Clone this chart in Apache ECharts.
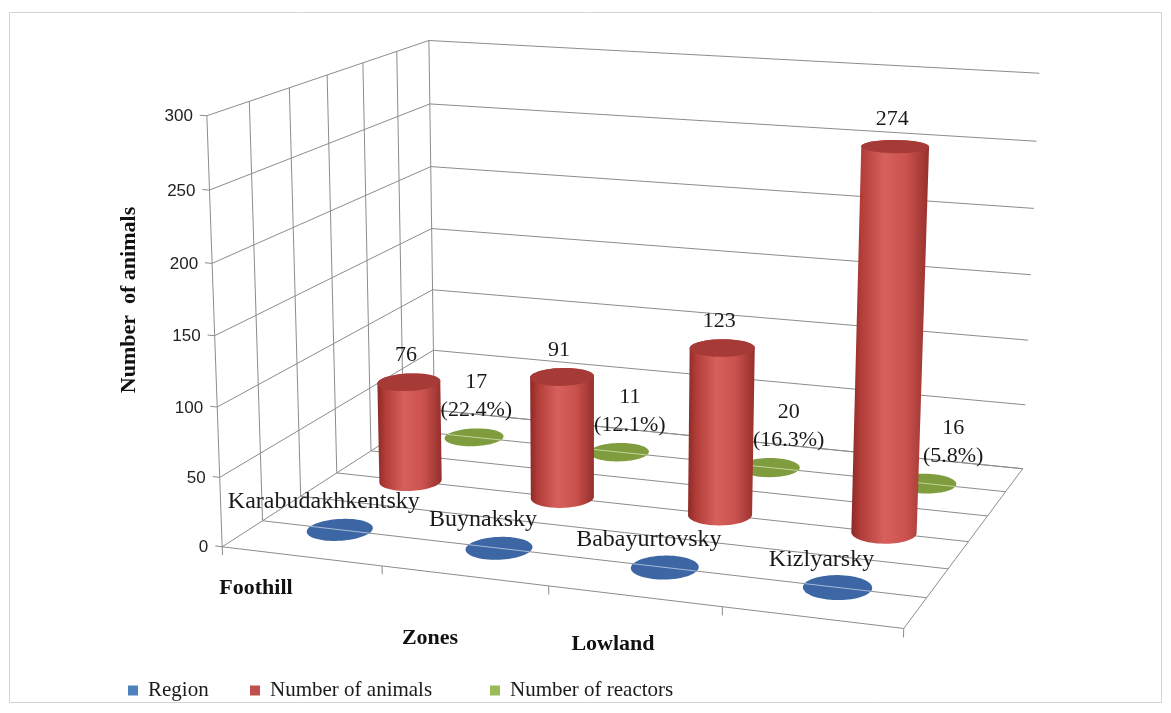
<!DOCTYPE html>
<html><head><meta charset="utf-8">
<script src="https://cdn.jsdelivr.net/npm/echarts@6/dist/echarts.min.js"></script>
<style>html,body{margin:0;padding:0;background:#fff}#c{width:1171px;height:713px}</style>
</head><body><div id="c"></div>
<script>
// ---------------- data ----------------
const regions = ['Karabudakhkentsky', 'Buynaksky', 'Babayurtovsky', 'Kizlyarsky'];
const regionValues = [0, 0, 0, 0];          // region names plotted as 0 (text cells)
const animals = [76, 91, 123, 274];
const reactors = [17, 11, 20, 16];
const reactorShare = ['22.4%', '12.1%', '16.3%', '5.8%'];
const reactorValues = [0, 0, 0, 0];         // reactor labels plotted as 0 (text cells)
const yTicks = [0, 50, 100, 150, 200, 250, 300];
const zones = ['Foothill', 'Lowland'];
const seriesNames = ['Region', 'Number of animals', 'Number of reactors'];

// ---------------- 3D box calibration (layout) ----------------
// world: X 0..1 across categories, Y 0..1 value fraction, Z 0 (front) .. 1 (back)
const calib = [
  [0,1,0, 206.7,116.7],[0,0,0, 225,545],[0,1,1, 429.3,40],[0,0,1, 433,414],
  [1,1,1, 1039,73],[1,0,1, 1023,467],[1,0,0, 905,630.5],
  [0.25,0,0, 382,564.7],[0.5,0,0, 548,585.6],
  [0,5/6,0, 209.3,190.7],[0,2/3,0, 210,264],[0,1/6,0, 218.3,476.7],
  [0,5/6,1, 430,103.3],[0,2/3,1, 431.7,165],
  [1,5/6,1, 1036.7,141.7],[1,2/3,1, 1033.3,209.3],[1,0.5,1, 1030.7,275],[1,1/3,1, 1028.3,340],[1,1/6,1, 1025,404],
  [0,1,0.5, 328.3,74.9]
];
function gauss(A, b) {
  const n = b.length, M = A.map((r, i) => r.concat([b[i]]));
  for (let c = 0; c < n; c++) {
    let piv = c;
    for (let r = c + 1; r < n; r++) if (Math.abs(M[r][c]) > Math.abs(M[piv][c])) piv = r;
    [M[c], M[piv]] = [M[piv], M[c]];
    for (let r = c + 1; r < n; r++) {
      const f = M[r][c] / M[c][c];
      for (let k = c; k <= n; k++) M[r][k] -= f * M[c][k];
    }
  }
  const x = Array(n).fill(0);
  for (let r = n - 1; r >= 0; r--) {
    let s = M[r][n];
    for (let k = r + 1; k < n; k++) s -= M[r][k] * x[k];
    x[r] = s / M[r][r];
  }
  return x;
}
function fitCamera(pts) {
  const s = 0.001, rows = [], rhs = [];
  pts.forEach(([X, Y, Z, u0, v0]) => {
    const u = u0 * s, v = v0 * s;
    rows.push([X, Y, Z, 1, 0, 0, 0, 0, -u * X, -u * Y, -u * Z]); rhs.push(u);
    rows.push([0, 0, 0, 0, X, Y, Z, 1, -v * X, -v * Y, -v * Z]); rhs.push(v);
  });
  const n = 11, N = [...Array(n)].map(() => Array(n).fill(0)), r = Array(n).fill(0);
  rows.forEach((row, k) => {
    for (let i = 0; i < n; i++) {
      r[i] += row[i] * rhs[k];
      for (let j = 0; j < n; j++) N[i][j] += row[i] * row[j];
    }
  });
  const p = gauss(N, r);
  return (X, Y, Z) => {
    const w = p[8] * X + p[9] * Y + p[10] * Z + 1;
    return [(p[0] * X + p[1] * Y + p[2] * Z + p[3]) / w / s, (p[4] * X + p[5] * Y + p[6] * Z + p[7]) / w / s];
  };
}
const proj = fitCamera(calib);

const GRID = '#8c8c8c';
const SERIF = '"Liberation Serif", "Times New Roman", serif';
const RX = 0.047, RZ = 0.068;            // cylinder radius in world units
const rowZ = k => (2 * k + 1) / 6;        // depth of series row k
const DEPTH_DIV = 6;

function hull(points) {
  const p = points.slice().sort((a, b) => a[0] - b[0] || a[1] - b[1]);
  const cr = (o, a, b) => (a[0] - o[0]) * (b[1] - o[1]) - (a[1] - o[1]) * (b[0] - o[0]);
  const lo = [], up = [];
  for (const q of p) { while (lo.length >= 2 && cr(lo[lo.length - 2], lo[lo.length - 1], q) <= 0) lo.pop(); lo.push(q); }
  for (let i = p.length - 1; i >= 0; i--) { const q = p[i]; while (up.length >= 2 && cr(up[up.length - 2], up[up.length - 1], q) <= 0) up.pop(); up.push(q); }
  return lo.slice(0, -1).concat(up.slice(0, -1));
}
// normalised world coords from the (hidden) cartesian scales
function bandInfo(api) {
  const band = api.size([1, 0])[0];
  const left = api.coord([0, yTicks[0]])[0] - band / 2;
  return { band, left, total: band * regions.length };
}
function worldX(api, i) { const b = bandInfo(api); return (api.coord([i, 0])[0] - b.left) / b.total; }
function worldXEdge(api, k) { const b = bandInfo(api); return (k * b.band) / b.total; }
function worldY(api, v) {
  const y0 = api.coord([0, yTicks[0]])[1], y1 = api.coord([0, yTicks[yTicks.length - 1]])[1];
  return (y0 - api.coord([0, v])[1]) / (y0 - y1);
}

function cylinder(cx, cz, Yt, sty, z2) {
  const N = 72, bot = [], top = [];
  for (let k = 0; k < N; k++) {
    const t = 2 * Math.PI * k / N, X = cx + RX * Math.cos(t), Z = cz + RZ * Math.sin(t);
    bot.push(proj(X, 0, Z)); top.push(proj(X, Yt, Z));
  }
  const els = [];
  if (Yt > 0.0001) {
    const h = hull(bot.concat(top));
    let mn = Infinity, mx = -Infinity;
    h.forEach(q => { mn = Math.min(mn, q[0]); mx = Math.max(mx, q[0]); });
    els.push({ type: 'polygon', shape: { points: h }, z2: z2,
      style: { fill: { type: 'linear', x: mn, y: 0, x2: mx, y2: 0, global: true, colorStops: sty.side } } });
    els.push({ type: 'polygon', shape: { points: top }, z2: z2 + 1, style: { fill: sty.top } });
  } else {
    els.push({ type: 'polygon', shape: { points: top }, z2: z2 + 1, style: { fill: sty.top } });
    const a = proj(cx - RX, 0, cz), b = proj(cx + RX, 0, cz);
    els.push({ type: 'line', shape: { x1: a[0], y1: a[1], x2: b[0], y2: b[1] }, z2: z2 + 2,
      style: { stroke: sty.line, lineWidth: 1 } });
  }
  return els;
}

const STY = {
  region: { top: '#3C67A4', line: '#A9BCD8' },
  animals: { top: '#A63A37', side: [
    { offset: 0, color: '#8C2A27' }, { offset: 0.12, color: '#B13C38' }, { offset: 0.42, color: '#D6605B' },
    { offset: 0.7, color: '#CC534F' }, { offset: 1, color: '#962F2C' }] },
  reactors: { top: '#7F9D3F', line: '#C3D59E' }
};

function renderWalls(params, api) {
  const ch = [];
  const L = (a, b, w) => ch.push({ type: 'line', z2: 0, shape: { x1: a[0], y1: a[1], x2: b[0], y2: b[1] },
    style: { stroke: GRID, lineWidth: w || 1 } });
  const Ytop = worldY(api, yTicks[yTicks.length - 1]);
  yTicks.forEach(t => {
    const Y = worldY(api, t);
    L(proj(0, Y, 0), proj(0, Y, 1));
    L(proj(0, Y, 1), proj(1, Y, 1));
    const a = proj(0, Y, 0), b = proj(-0.011, Y, 0);
    L(a, b);
    ch.push({ type: 'text', z2: 5, x: a[0] - 14, y: a[1] + 1,
      style: { text: String(t), font: '17px "Liberation Sans", Arial, sans-serif', fill: '#222', align: 'right', verticalAlign: 'middle' } });
  });
  for (let j = 0; j <= DEPTH_DIV; j++) {
    const Z = j / DEPTH_DIV;
    L(proj(0, 0, Z), proj(0, Ytop, Z));
    L(proj(0, 0, Z), proj(1, 0, Z));
  }
  L(proj(1, 0, 0), proj(1, 0, 1));
  for (let k = 0; k <= regions.length; k++) {
    const X = worldXEdge(api, k);
    L(proj(X, 0, 0), proj(X, -0.02, 0));
  }
  return { type: 'group', children: ch };
}

function renderRegion(params, api) {
  const i = api.value(0), X = worldX(api, i), Y = worldY(api, api.value(1)), Z = rowZ(0);
  const ch = cylinder(X, Z, Y, STY.region, 30);
  const c = proj(X, Y, Z);
  ch.push({ type: 'text', z2: 60, x: c[0] - 16, y: c[1] - 28,
    style: { text: regions[i], font: '24px ' + SERIF, fill: '#1a1a1a', align: 'center', verticalAlign: 'middle' } });
  return { type: 'group', children: ch };
}
function renderAnimals(params, api) {
  const i = api.value(0), X = worldX(api, i), Y = worldY(api, api.value(1)), Z = rowZ(1);
  const ch = cylinder(X, Z, Y, STY.animals, 20);
  const c = proj(X, Y, Z);
  ch.push({ type: 'text', z2: 60, x: c[0] - 3, y: c[1] - 27,
    style: { text: String(animals[i]), font: '22px ' + SERIF, fill: '#1a1a1a', align: 'center', verticalAlign: 'middle' } });
  return { type: 'group', children: ch };
}
function renderReactors(params, api) {
  const i = api.value(0), X = worldX(api, i), Y = worldY(api, api.value(1)), Z = rowZ(2);
  const ch = cylinder(X, Z, Y, STY.reactors, 10);
  const c = proj(X, Y, Z);
  ch.push({ type: 'text', z2: 60, x: c[0] - 2 + 34 * X, y: c[1] - 13,
    style: { text: reactors[i] + '\n(' + reactorShare[i] + ')', font: '22px ' + SERIF, lineHeight: 28,
      fill: '#1a1a1a', align: 'center', verticalAlign: 'bottom' } });
  return { type: 'group', children: ch };
}

const chart = echarts.init(document.getElementById('c'), null, { renderer: 'canvas' });
const legendText = { fontFamily: SERIF, fontSize: 21, color: '#1a1a1a', padding: [0, 0, 0, 5] };
const mkLegend = (name, left) => ({ data: [name], left: left, top: 675, icon: 'rect', itemWidth: 10, itemHeight: 10,
  selectedMode: false, textStyle: legendText });
chart.setOption({
  animation: false,
  backgroundColor: '#fff',
  grid: { left: 0, top: 0, right: 0, bottom: 0, show: false },
  xAxis: { type: 'category', data: regions, show: false },
  yAxis: { type: 'value', min: 0, max: 300, interval: 50, show: false },
  legend: [mkLegend(seriesNames[0], 123), mkLegend(seriesNames[1], 245), mkLegend(seriesNames[2], 485)],
  graphic: [
    { type: 'rect', shape: { x: 9.5, y: 12.5, width: 1152, height: 690 }, style: { fill: 'none', stroke: '#d4d4d4', lineWidth: 1 }, silent: true },
    { type: 'text', x: 129, y: 300, rotation: Math.PI / 2,
      style: { text: 'Number  of animals', font: 'bold 22px ' + SERIF, fill: '#111', align: 'center', verticalAlign: 'middle' } },
    { type: 'text', x: 256, y: 588, style: { text: zones[0], font: 'bold 22px ' + SERIF, fill: '#111', align: 'center', verticalAlign: 'middle' } },
    { type: 'text', x: 430, y: 638, style: { text: 'Zones', font: 'bold 22px ' + SERIF, fill: '#111', align: 'center', verticalAlign: 'middle' } },
    { type: 'text', x: 613, y: 644, style: { text: zones[1], font: 'bold 22px ' + SERIF, fill: '#111', align: 'center', verticalAlign: 'middle' } }
  ],
  series: [
    { type: 'custom', name: '_axes', coordinateSystem: 'cartesian2d', z: 2, clip: false, silent: true,
      renderItem: renderWalls, data: [[0, 0]] },
    { type: 'custom', name: seriesNames[2], coordinateSystem: 'cartesian2d', z: 2, clip: false, silent: true,
      itemStyle: { color: '#9BBB59' }, renderItem: renderReactors, data: reactorValues.map((v, i) => [i, v]) },
    { type: 'custom', name: seriesNames[1], coordinateSystem: 'cartesian2d', z: 2, clip: false, silent: true,
      itemStyle: { color: '#C0504D' }, renderItem: renderAnimals, data: animals.map((v, i) => [i, v]) },
    { type: 'custom', name: seriesNames[0], coordinateSystem: 'cartesian2d', z: 2, clip: false, silent: true,
      itemStyle: { color: '#4F81BD' }, renderItem: renderRegion, data: regionValues.map((v, i) => [i, v]) }
  ]
});
</script></body></html>
